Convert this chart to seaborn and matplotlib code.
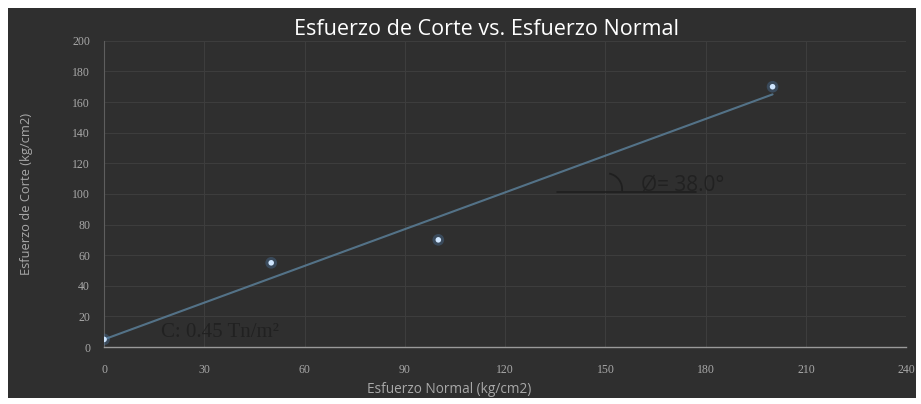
import matplotlib
matplotlib.use("Agg")
import matplotlib.pyplot as plt
import seaborn as sns
import pandas as pd
from matplotlib.patches import Rectangle, Arc

# data
esfuerzo_normal = [0, 50, 100, 200]
esfuerzo_corte = [5, 55, 70, 170]
x_ticks = [0, 30, 60, 90, 120, 150, 180, 210, 240]
y_ticks = [0, 20, 40, 60, 80, 100, 120, 140, 160, 180, 200]

titulo = "Esfuerzo de Corte vs. Esfuerzo Normal"
x_label = "Esfuerzo Normal (kg/cm2)"
y_label = "Esfuerzo de Corte (kg/cm2)"
angulo_txt = "Ø= 38.0°"
cohesion_txt = "C: 0.45 Tn/m²"

BG = "#2f2f2f"
GRID = "#3e3e3e"
TICK = "#a8a8a8"
DARK_TXT = "#1f1f1f"


def main():
    df = pd.DataFrame({"normal": esfuerzo_normal, "corte": esfuerzo_corte})

    sns.set_style("dark")
    fig = plt.figure(figsize=(9.21, 4.04), dpi=100, facecolor="white")
    # dark chart panel inside the photo frame
    fig.patches.append(Rectangle((0.009, 0.016), 0.986, 0.964, transform=fig.transFigure,
                                 facecolor=BG, edgecolor="none", zorder=-10))

    ax = fig.add_axes([0.113, 0.141, 0.871, 0.758])
    ax.set_facecolor(BG)

    # trend line (linear fit) and points
    sns.regplot(data=df, x="normal", y="corte", ci=None, scatter=False, ax=ax,
                line_kws={"color": "#587a92", "lw": 1.5, "alpha": 0.9})
    sns.scatterplot(data=df, x="normal", y="corte", ax=ax, s=70, color="#4f7fb0",
                    alpha=0.35, edgecolor="none", zorder=4)
    sns.scatterplot(data=df, x="normal", y="corte", ax=ax, s=16, color="#cfe6ff",
                    edgecolor="none", zorder=5)

    ax.set_xlim(0, 240)
    ax.set_ylim(0, 200)
    ax.set_xticks(x_ticks)
    ax.set_yticks(y_ticks)
    ax.tick_params(length=0, colors=TICK, labelsize=8)
    ax.tick_params(axis="x", pad=12)
    ax.tick_params(axis="y", pad=10)
    for lbl in ax.get_xticklabels() + ax.get_yticklabels():
        lbl.set_family("Liberation Serif")
        lbl.set_fontsize(8.5)
    ax.grid(True, color=GRID, lw=0.7)
    for side in ["top", "right"]:
        ax.spines[side].set_visible(False)
    ax.spines["bottom"].set_color("#9a9a9a")
    ax.spines["left"].set_color("#5e5e5e")
    ax.spines["bottom"].set_linewidth(1.0)
    ax.spines["left"].set_linewidth(0.8)

    ax.set_xlabel(x_label, color=TICK, fontsize=9.8, family="Open Sans")
    ax.xaxis.set_label_coords(0.43, -0.115)
    ax.set_ylabel(y_label, color=TICK, fontsize=9.3, family="Open Sans")
    ax.yaxis.set_label_coords(-0.088, 0.5)

    fig.text(0.528, 0.926, titulo, color="white", fontsize=15.5, family="Open Sans",
             ha="center", va="center")

    # friction angle sketch
    ax.plot([135.5, 177], [101.5, 101.5], color=DARK_TXT, lw=1.2, zorder=3)
    ax.add_patch(Arc((150.2, 103), 9.6, 21, theta1=-15, theta2=85, color=DARK_TXT, lw=1.3))
    ax.text(160.5, 106, angulo_txt, color=DARK_TXT, fontsize=15, family="Open Sans",
            ha="left", va="center", alpha=0.85)
    ax.text(17, 9.5, cohesion_txt, color=DARK_TXT, fontsize=15, family="Liberation Serif",
            ha="left", va="center", alpha=0.85)

    fig.savefig("out.png", dpi=100, facecolor="white")


if __name__ == "__main__":
    main()
